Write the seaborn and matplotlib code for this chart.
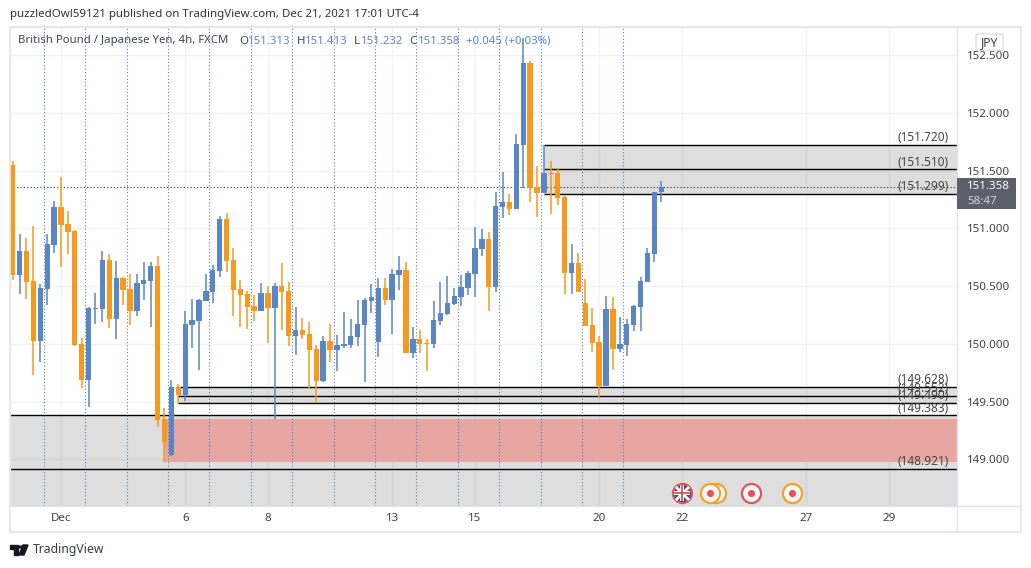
import numpy as np
import pandas as pd
import matplotlib
matplotlib.use("Agg")
import matplotlib.pyplot as plt
from matplotlib.patches import Rectangle, FancyBboxPatch, Polygon, Circle
import seaborn as sns

# ---------- data (GBP/JPY, 4h candles) ----------
opens = [151.548,150.594,150.802,150.542,150.023,150.476,150.854,151.184,151.036,150.976,
         149.997,149.685,150.300,150.300,150.724,150.213,150.568,150.473,150.283,150.516,
         150.542,150.672,149.347,149.035,149.624,149.555,150.161,150.196,150.369,150.447,
         150.629,151.080,150.724,150.473,150.429,150.325,150.282,150.438,150.308,150.499,
         150.455,150.065,150.117,150.083,149.953,149.676,150.022,149.944,149.979,149.987,
         150.057,150.161,150.369,150.013,150.481,150.377,150.594,150.637,149.918,150.039,
         150.005,149.996,150.195,150.256,150.343,150.403,150.481,150.603,150.820,150.907,
         150.491,151.184,151.227,151.167,151.721,152.432,151.357,151.305,151.478,151.478,
         151.271,150.612,150.699,150.352,150.161,150.014,149.633,150.300,149.953,149.988,
         150.161,150.317,150.534,150.777,151.313]
highs = [151.582,150.950,150.918,151.019,150.516,150.950,151.236,151.444,151.149,150.984,
         150.049,150.317,150.438,150.802,150.776,150.716,150.577,150.603,150.603,150.707,
         150.707,150.759,149.442,149.685,149.650,150.283,150.386,150.386,150.603,150.681,
         151.106,151.132,150.829,150.551,150.455,150.421,150.525,150.499,150.525,150.698,
         150.533,150.317,150.221,150.187,149.987,150.065,150.169,150.074,150.273,150.213,
         150.377,150.395,150.516,150.568,150.568,150.646,150.759,150.707,150.143,150.117,
         150.039,150.369,150.533,150.585,150.481,150.594,150.629,151.011,150.993,150.967,
         151.314,151.487,151.297,151.816,152.648,152.449,151.539,151.721,151.582,151.522,
         151.279,150.863,150.785,150.560,150.309,150.066,150.413,150.404,150.231,150.213,
         150.335,150.577,150.829,151.314,151.413]
lows = [150.551,150.430,150.386,149.728,149.841,150.334,150.785,150.664,150.776,149.985,
        149.615,149.451,150.170,150.187,150.135,150.040,150.334,150.161,150.239,150.378,
        150.144,149.277,148.974,149.030,149.477,149.503,149.962,149.771,150.369,150.352,
        150.577,150.621,150.239,150.143,150.126,150.195,150.282,150.005,149.346,150.117,
        149.979,149.901,150.039,149.606,149.485,149.667,149.840,149.762,149.961,149.961,
        149.979,149.667,150.265,149.883,150.334,150.083,150.464,149.918,149.875,149.918,
        149.762,149.961,150.161,150.248,150.334,150.325,150.421,150.404,150.759,150.283,
        150.447,151.089,151.115,151.167,151.348,151.227,151.097,151.305,151.123,151.201,
        150.430,150.430,150.447,150.153,149.927,149.529,149.633,149.771,149.927,149.893,
        150.109,150.109,150.534,150.707,151.232]
closes = [150.594,150.802,150.534,150.023,150.482,150.863,151.184,151.028,150.967,149.988,
          149.685,150.308,150.308,150.724,150.213,150.568,150.464,150.283,150.525,150.551,
          150.672,149.338,149.147,149.624,149.555,150.170,150.205,150.378,150.456,150.638,
          151.080,150.716,150.464,150.421,150.317,150.282,150.438,150.308,150.499,150.447,
          150.065,150.117,150.074,149.944,149.676,150.022,149.944,149.987,149.996,150.065,
          150.169,150.377,150.403,150.481,150.377,150.603,150.637,149.918,150.039,149.996,
          149.996,150.204,150.265,150.351,150.412,150.490,150.611,150.829,150.907,150.491,
          151.193,151.227,151.167,151.730,152.432,151.348,151.305,151.478,151.470,151.262,
          150.612,150.699,150.447,150.153,150.005,149.633,150.300,149.953,149.997,150.170,
          150.326,150.543,150.785,151.314,151.358]

day_ticks = [7, 25, 37, 55, 67, 85, 97, 115, 127]
day_labels = ["Dec", "6", "8", "13", "15", "20", "22", "27", "29"]
price_ticks = [149.0, 149.5, 150.0, 150.5, 151.0, 151.5, 152.0, 152.5]
session_marks = [4.5, 10.5, 16.5, 22.5, 28.5, 34.5, 40.5, 46.5, 52.5, 58.5, 64.5, 70.5, 76.5, 82.5, 88.5]

zone_levels = [151.720, 151.510, 151.299, 149.628, 149.552, 149.490, 149.383, 148.921]
zone_starts = [77, 77, 77, 24, 24, 24, -1, -1]
label_texts = ["(151.720)", "(151.510)", "(151.299)", "(149.628)", "(149.552)", "(149.490)", "(149.383)", "(148.921)"]
last_price = 151.358
pink_low, pink_high, pink_start = 148.974, 149.347, 22

event_x_orange = [102, 101, 113]
event_x_red = [107]
event_x_flag = [97]
event_x_dot = [101, 107, 113]
event_price = 148.712

BLUE = "#5b86c4"
ORANGE = "#f7981f"
W, H = 1031, 568

# ---------- figure ----------
sns.set_theme(style="white")
plt.rcParams["font.family"] = ["Noto Sans", "DejaVu Sans"]
fig = plt.figure(figsize=(W / 100, H / 100), dpi=100, facecolor="white")
ax = fig.add_axes([10 / W, 1 - 505.5 / H, 947 / W, 478.5 / H])

left, right = -0.391, 136.86
ax.set_xlim(left, right)
ax.set_ylim(148.601, 152.743)

df = pd.DataFrame({"i": np.arange(len(opens)), "o": opens, "h": highs, "l": lows, "c": closes})
df["bottom"] = df[["o", "c"]].min(axis=1)
df["height"] = (df["o"] - df["c"]).abs().clip(lower=0.012)
df["up"] = df["c"] >= df["o"]

# zones
ax.axhspan(ax.get_ylim()[0], zone_levels[6], color="#808080", alpha=0.26, lw=0, zorder=1)
for a, b, s in [(zone_levels[2], zone_levels[0], zone_starts[0]),
                (zone_levels[5], zone_levels[3], zone_starts[3])]:
    ax.add_patch(Rectangle((s, a), right - s, b - a, color="#808080", alpha=0.26, lw=0, zorder=1))
ax.add_patch(Rectangle((pink_start, pink_low), right - pink_start, pink_high - pink_low,
                       color="#e8a6a3", lw=0, zorder=1.5))
ax.vlines(session_marks, *ax.get_ylim(), colors="#4f7cc0", linestyles=(0, (1, 2.0)), lw=0.8, zorder=2)
for s, lev in zip(zone_starts, zone_levels):
    ax.hlines(lev, s, right, colors="black", lw=1.0, zorder=2.5)
ax.hlines(last_price, left, right, colors="#333333", linestyles=(0, (1, 2)), lw=0.8, zorder=2.5)

# candles
for up, col in [(True, BLUE), (False, ORANGE)]:
    sub = df[df["up"] == up]
    ax.vlines(sub["i"], sub["l"], sub["h"], colors=col, lw=1.1, zorder=3)
    sns.barplot(x=sub["i"].to_numpy(), y=sub["height"].to_numpy(), bottom=sub["bottom"].to_numpy(),
                native_scale=True, color=col, saturation=1, width=0.78, errorbar=None,
                linewidth=0, ax=ax, zorder=4)
ax.set_xlim(left, right)
ax.set_ylim(148.601, 152.743)

# level labels
offsets = [7.5, 7, 7, 7, 7, 7.5, 7, 7]
for lev, txt, off in zip(zone_levels, label_texts, offsets):
    ax.annotate(txt, (right, lev), xytext=(-6, off / 1.389), textcoords="offset points",
                ha="right", va="center", fontsize=8.5, color="#444444", zorder=6)

# events
ring = dict(s=190, facecolor="#f6f6fb", linewidth=1.6, zorder=5)
ax.scatter(event_x_orange, [event_price] * 3, edgecolor="#f3a425", **ring)
ax.scatter(event_x_red, [event_price], edgecolor="#e2565a", **ring)
ax.scatter(event_x_flag, [event_price], edgecolor="#e2565a", **{**ring, "facecolor": "#3d4c8f"})
ax.scatter(event_x_flag, [event_price], marker="x", s=90, color="white", linewidth=2, zorder=5.1)
ax.scatter(event_x_flag, [event_price], marker="+", s=130, color="white", linewidth=2.8, zorder=5.2)
ax.scatter(event_x_flag, [event_price], marker="+", s=120, color="#d9434e", linewidth=1.2, zorder=5.3)
ax.scatter(event_x_dot, [event_price] * 3, s=26, color="#ea4f55", linewidth=0, zorder=5.4)

# axes styling
ax.set_xticks(day_ticks, day_labels)
ax.set_yticks(price_ticks, [f"{p:.3f}" for p in price_ticks])
ax.yaxis.tick_right()
ax.tick_params(axis="y", length=0, pad=7.5, labelsize=8.3, labelcolor="#3f3f46")
ax.tick_params(axis="x", length=0, pad=5.5, labelsize=8.3, labelcolor="#3f3f46")
ax.get_xticklabels()[0].set_fontweight("bold")
ax.grid(True, color="#f1f2f5", lw=1, zorder=0)
ax.set_axisbelow(True)
ax.set_xlabel("")
ax.set_ylabel("")
for s in ax.spines.values():
    s.set_color("#e0e3eb")
    s.set_linewidth(1)


def px(x, y):
    return x / W, 1 - y / H


# frame around chart + scales
fig.add_artist(Rectangle(px(10, 532), 1011 / W, 505 / H, fill=False, edgecolor="#e6e8ee", lw=1.4,
                         transform=fig.transFigure))
fig.add_artist(plt.Line2D([957 / W, 957 / W], [1 - 505 / H, 1 - 532 / H], color="#e0e3eb", lw=1))
fig.add_artist(plt.Line2D([957 / W, 1021 / W], [1 - 505.5 / H, 1 - 505.5 / H], color="#e0e3eb", lw=1))

# last price badge
fig.add_artist(Rectangle(px(957, 209), 59 / W, 31 / H, facecolor="#5d606b", edgecolor="none",
                         transform=fig.transFigure, zorder=5))
fig.text(*px(967, 186.5), f"{last_price:.3f}", color="white", fontweight="bold", fontsize=8.3,
         va="center", zorder=6)
fig.text(*px(967, 201), "58:47", color="#d1d4dc", fontsize=8.3, va="center", zorder=6)

# currency button
fig.add_artist(FancyBboxPatch(px(976, 50.5), 27 / W, 16.5 / H, boxstyle="round,pad=0,rounding_size=0.003",
                              facecolor="white", edgecolor="#dcdfe6", lw=1, transform=fig.transFigure,
                              mutation_aspect=H / W, zorder=5))
fig.text(*px(989.5, 42.5), "JPY", color="#3f3f46", fontsize=8.6, ha="center", va="center", zorder=6)

# headers
fig.text(*px(10, 15), "puzzledOwl59121 published on TradingView.com, Dec 21, 2021 17:01 UTC-4",
         color="#333333", fontsize=8.27, va="center")
DARK = "#3f4450"
VAL = "#5b86c4"
for x, t, c in [(18, "British Pound / Japanese Yen, 4h, FXCM", DARK),
                (239, "O", DARK), (248, "151.313", VAL), (297, "H", DARK), (305, "151.413", VAL),
                (354, "L", DARK), (361, "151.232", VAL), (409, "C", DARK), (418, "151.358", VAL),
                (466, "+0.045 (+0.03%)", VAL)]:
    fig.text(*px(x, 41), t, color=c, fontsize=8.2, va="center")

# logo + brand
fig.add_artist(Polygon([px(10, 545), px(18, 545), px(18, 555), px(14, 555), px(14, 549), px(10, 549)],
                       closed=True, color="#131722", transform=fig.transFigure))
fig.add_artist(Polygon([px(23, 545), px(28, 545), px(24, 555), px(19, 555)],
                       closed=True, color="#131722", transform=fig.transFigure))
fig.add_artist(Circle(px(20.5, 547), 1.7 / W, color="#131722", transform=fig.transFigure))
fig.text(*px(33, 550), "TradingView", color="#333a45", fontsize=8.8, va="center")

fig.savefig("out.png", dpi=100, facecolor="white")
